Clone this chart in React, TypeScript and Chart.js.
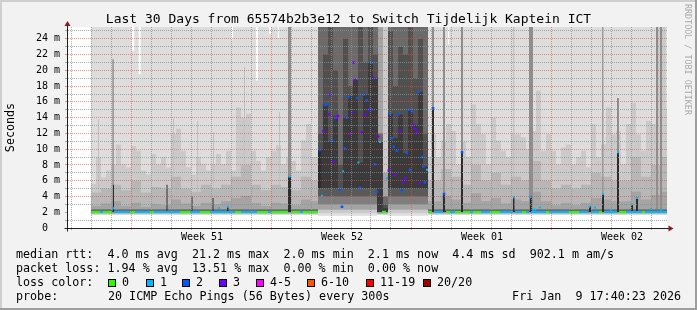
import { useEffect, useRef } from 'react';
import { Chart, registerables } from 'chart.js';

Chart.register(...registerables);

// ---------------- data (x in days since window start, y in ms) ----------------
const dayGridLines = [0.2, 1.2, 2.2, 3.2, 4.2, 5.2, 6.2, 7.2, 8.2, 9.2, 10.2, 11.2, 12.2, 13.2, 14.2, 15.2, 16.2, 17.2, 18.2, 19.2, 20.2, 21.2, 22.2, 23.2, 24.2, 25.2, 26.2, 27.2, 28.2, 29.2];
const weekStartIdx = [3, 10, 17, 24];
const weekLabelDays = [6.75, 13.75, 20.75, 27.75];
const weekLabels = ['Week 51', 'Week 52', 'Week 01', 'Week 02'];
const yTickValues = [0, 1, 2, 3, 4, 5, 6, 7, 8, 9, 10, 11, 12, 13, 14, 15, 16, 17, 18, 19, 20, 21, 22, 23, 24, 25];

// outermost smoke (min..max ping) top, breakpoints [day, ms]
const maxPing = [[1.2, 26], [3.235, 22.5], [3.365, 26], [3.585, 19.5], [3.685, 26], [8.2, 23.9], [8.3, 26], [9.45, 18.7], [9.55, 26], [10.1, 24.6], [10.2, 26], [10.55, 24.1], [10.6, 26], [19.05, 23.3], [19.1, 26], [30, 26]];

// second smoke band top, 0.25-day columns from day 1.2
const smoke2Top = [
  5.6, 9.0, 6.4, 7.3, 8.0, 10.6, 8.1, 7.7, 10.4, 9.8,
  7.3, 6.8, 9.4, 8.1, 9.0, 7.7, 11.9, 12.6, 9.8, 7.7,
  6.8, 9.0, 8.1, 7.3, 8.1, 9.4, 8.1, 9.8, 7.3, 15.3,
  14.0, 14.5, 9.8, 8.5, 7.3, 9.0, 9.8, 10.5, 8.1, 9.0,
  8.5, 7.3, 11.1, 13.2, 9.0, 9.0, 26, 26, 26, 26,
  26, 26, 26, 26, 26, 26, 26, 26, 26, 26,
  26, 26, 26, 26, 26, 26, 26, 9.0, 11.9, 9.0,
  11.1, 13.2, 12.3, 8.1, 11.0, 9.0, 15.7, 13.2, 11.9, 8.1,
  14.0, 11.1, 9.8, 9.0, 11.9, 11.9, 11.5, 10.0, 12.3, 17.4,
  9.8, 11.9, 9.8, 8.1, 10.2, 10.6, 8.1, 9.0, 9.8, 7.7,
  13.2, 9.0, 10.6, 15.3, 11.9, 12.3, 8.1, 13.2, 15.9, 11.9,
  9.8, 13.6, 13.2, 26, 26, 15
];

// third and fourth smoke band tops, 0.5-day columns from day 1.2
const smoke3Top = [
  4.5, 5.0, 5.5, 4.8, 6.0, 4.5, 5.2, 5.0, 6.5, 5.0,
  4.6, 5.5, 5.0, 5.5, 6.5, 8.0, 5.5, 4.8, 5.5, 5.2,
  4.8, 6.5, 6.0, 0, 0, 0, 0, 0, 0, 0,
  0, 0, 0, 6.0, 6.0, 7.5, 6.5, 5.5, 8.0, 6.0,
  7.0, 5.5, 6.5, 6.0, 8.5, 6.0, 5.0, 5.5, 5.0, 5.5,
  7.0, 6.5, 6.0, 6.0, 9.0, 6.5, 8.0, 9.0
];
const smoke4Top = [
  2.8, 3.1, 3.4, 2.8, 3.2, 2.7, 3.0, 2.9, 3.6, 3.1,
  2.8, 3.2, 3.0, 3.4, 3.8, 4.1, 3.2, 2.8, 3.2, 3.1,
  2.9, 3.6, 3.4, 0, 0, 0, 0, 0, 0, 0,
  0, 0, 0, 3.4, 3.4, 4.1, 3.6, 3.2, 4.4, 3.4,
  3.8, 3.1, 3.6, 3.4, 4.6, 3.4, 2.9, 3.2, 2.9, 3.2,
  3.8, 3.6, 3.4, 3.4, 4.6, 3.6, 4.2, 4.6
];
// inner bands around the median in quiet periods
const smoke6Top = [[1.2, 2.4], [30, 2.4]];
const smoke8Top = [[1.2, 2.22], [30, 2.22]];
const smoke10Top = [[1.2, 2.1], [30, 2.1]];

// week 52 disturbance, 0.25-day columns from day 12.55
const w52Light = [26, 26, 26, 26, 26, 26, 26, 26, 26, 26, 26, 26, 26, 7, 26, 26, 26, 26, 26, 26, 26, 26];
const w52Mid = [26, 26, 26, 26, 26, 26, 26, 26, 26, 26, 26, 26, 12, 4, 26, 26, 26, 26, 26, 26, 26, 26];
const w52Dark = [12, 22, 26, 20, 8, 24, 18, 14, 26, 21, 26, 22, 10, 3, 25, 18, 23, 22, 26, 19, 24, 12];
const w52Core = [10, 15.7, 11, 14.2, 4.9, 14, 16.7, 18.8, 8.3, 16.9, 21, 19, 10.9, 2.5, 14.5, 11.4, 14.4, 9.5, 15, 13.1, 17.3, 7.8];

// narrow bursts [startDay, endDay, ms]
const burstLight = [[1.55, 1.6, 13.8], [5.3, 5.35, 13.9], [6.5, 6.55, 13.6], [7.3, 7.35, 12.1], [8.85, 8.9, 20.4], [10.6, 10.65, 14.7], [22.3, 22.375, 26]];
const burstGray = [[2.26, 2.34, 21.4], [11.05, 11.2, 26], [18.25, 18.35, 26], [18.8, 18.9, 26], [19.7, 19.8, 26], [23.1, 23.3, 26], [26.76, 26.82, 26], [27.5, 27.6, 16.5], [29.45, 29.55, 26], [29.65, 29.75, 26]];
const burstDark = [[2.3, 2.35, 5.5], [4.975, 5.025, 5.5], [6.225, 6.275, 4.0], [7.275, 7.325, 3.8], [8.0, 8.075, 2.8], [11.05, 11.2, 6.5], [12.55, 12.7, 10], [18.25, 18.35, 15.2], [18.8, 18.9, 4.3], [19.7, 19.8, 9.6], [22.3, 22.375, 3.9], [23.15, 23.25, 4.0], [26.1, 26.2, 2.8], [26.75, 26.85, 4.3], [27.5, 27.6, 9.6], [28.2, 28.3, 3.0], [28.45, 28.55, 3.8]];

// lower edges of the smoke bands (breakpoints shared)
const lowDays = [1.2, 12.55, 15.5, 16.05, 18.05, 30];
const lowCore = [2.0, 5.0, 2.0, 5.0, 2.0, 2.0];
const lowDark = [2.0, 4.0, 2.0, 4.0, 2.0, 2.0];
const lowMid = [2.0, 3.0, 2.0, 3.0, 2.0, 2.0];
const lowLight = [1.85, 2.3, 1.85, 2.3, 1.85, 1.85];
const lowOuter = [1.75, 1.9, 1.75, 1.9, 1.75, 1.75];
const minPing = [1.65, 1.55, 1.65, 1.55, 1.65, 1.65];

// median rtt runs per loss colour [startDay, endDay, ms]
const medianLoss0 = [[1.2, 1.65, 2.03], [1.8, 2.25, 2.03], [3.15, 3.4, 2.03], [4.15, 4.35, 2.03], [5.65, 6.15, 2.03], [6.65, 7.15, 2.03], [8.4, 8.7, 2.03], [9.5, 10.05, 2.03], [10.2, 11.05, 2.03], [11.2, 11.65, 2.03], [11.8, 12.55, 2.03], [15.75, 15.95, 2.05], [18.05, 18.25, 2.03], [18.95, 19.15, 2.03], [19.4, 19.7, 2.03], [19.8, 20.15, 2.03], [20.3, 20.7, 2.03], [21.15, 21.65, 2.03], [22.75, 22.95, 2.03], [23.95, 24.1, 2.03], [25.1, 25.6, 2.03], [26.6, 26.75, 2.03], [27.6, 27.95, 2.03], [28.75, 28.9, 2.03]];
const medianLoss1 = [[1.65, 1.8, 2.03], [2.25, 2.35, 2.5], [2.35, 3.15, 2.03], [3.4, 4.15, 2.03], [4.35, 5.65, 2.03], [6.15, 6.65, 2.03], [7.15, 8.4, 2.03], [7.55, 7.65, 2.5], [8.0, 8.1, 2.7], [8.7, 9.5, 2.03], [10.05, 10.2, 2.03], [11.075, 11.175, 6.5], [11.65, 11.8, 2.03], [12.7, 12.8, 4.1], [13.77, 13.85, 7.2], [14.52, 14.62, 8.3], [15.6, 15.7, 10.9], [15.95, 16.05, 6.3], [17.95, 18.05, 7.4], [18.35, 18.8, 2.03], [19.15, 19.4, 2.03], [20.15, 20.3, 2.03], [20.7, 21.15, 2.03], [21.65, 22.3, 2.03], [22.3, 22.4, 3.9], [22.4, 22.75, 2.03], [22.95, 23.1, 2.03], [23.1, 23.2, 3.9], [23.2, 23.95, 2.03], [23.25, 23.45, 2.3], [23.6, 23.7, 2.6], [24.1, 25.1, 2.03], [25.6, 26.075, 2.03], [26.075, 26.175, 2.7], [26.2, 26.6, 2.03], [26.35, 26.45, 2.6], [26.75, 26.85, 4.3], [26.85, 27.5, 2.03], [27.15, 27.25, 2.3], [27.5, 27.6, 9.6], [27.95, 28.75, 2.03], [28.2, 28.3, 3.0], [28.45, 28.55, 3.8], [28.9, 30, 2.03], [29.15, 29.25, 2.4], [29.65, 29.75, 2.3]];
const medianLoss2 = [[12.6, 12.7, 9.9], [12.87, 12.97, 15.6], [12.95, 13.05, 15.7], [13.2, 13.3, 11.1], [13.35, 13.45, 14.0], [13.6, 13.7, 4.9], [13.7, 13.8, 2.7], [13.85, 13.95, 10.1], [13.93, 14.03, 14.0], [14.02, 14.12, 16.6], [14.46, 14.56, 16.5], [14.6, 14.7, 5.1], [14.78, 14.88, 16.9], [14.94, 15.04, 16.2], [15.12, 15.22, 15.1], [15.19, 15.29, 21.0], [15.35, 15.45, 8.1], [15.45, 15.55, 4.6], [16.1, 16.2, 14.5], [16.2, 16.3, 11.4], [16.29, 16.39, 10.3], [16.45, 16.55, 9.8], [16.52, 16.62, 14.4], [16.7, 16.8, 4.8], [16.94, 17.04, 9.5], [17.02, 17.12, 15.0], [17.1, 17.2, 7.4], [17.2, 17.3, 14.8], [17.52, 17.62, 17.3], [17.7, 17.8, 9.0], [17.77, 17.87, 7.8], [17.85, 17.95, 5.8], [18.25, 18.35, 15.2], [18.8, 18.9, 4.3], [19.7, 19.8, 9.6]];
const medianLoss3 = [[12.77, 12.87, 12.3], [13.05, 13.15, 14.4], [13.12, 13.22, 16.9], [13.27, 13.37, 8.4], [13.44, 13.54, 14.0], [13.5, 13.6, 14.2], [14.1, 14.2, 12.0], [14.19, 14.29, 14.7], [14.28, 14.38, 21.0], [14.35, 14.45, 18.8], [14.69, 14.79, 12.1], [14.85, 14.95, 14.4], [15.04, 15.14, 15.0], [15.27, 15.37, 19.0], [15.52, 15.62, 11.6], [16.04, 16.14, 7.3], [16.35, 16.45, 6.8], [16.6, 16.7, 12.3], [16.77, 16.87, 5.8], [16.85, 16.95, 6.3], [17.29, 17.39, 13.1], [17.35, 17.45, 12.6], [17.44, 17.54, 12.2], [17.6, 17.7, 5.7]];

const lossLabels = ['0', '1', '2', '3', '4-5', '6-10', '11-19', '20/20'];
const lossColors = ['#26ff00', '#00b8ff', '#0059ff', '#7000ff', '#ff00ff', '#ff5500', '#ff0000', '#a00000'];

const titleText = 'Last 30 Days from 65574b2b3e12 to Switch Tijdelijk Kaptein ICT';
const legendRtt = 'median rtt:  4.0 ms avg  21.2 ms max  2.0 ms min  2.1 ms now  4.4 ms sd  902.1 m am/s';
const legendLoss = 'packet loss: 1.94 % avg  13.51 % max  0.00 % min  0.00 % now';
const legendProbe = '20 ICMP Echo Pings (56 Bytes) every 300s';
const legendDate = 'Fri Jan  9 17:40:23 2026';

// ---------------- helpers ----------------
type P = { x: number; y: number | null };
const W = 697;
const H = 310;
const FONT = "'DejaVu Sans Mono', monospace";
const GRID = 'rgba(143,143,143,0.75)';
const MGRID = 'rgba(222,79,79,0.6)';
const AXIS = '#1f1f1f';
const ARROW = '#801f1f';

function columns(start: number, step: number, vals: number[]): P[] {
  const pts: P[] = vals.map((v, i) => ({ x: start + i * step, y: v }));
  pts.push({ x: Math.min(start + vals.length * step, 30), y: vals[vals.length - 1] });
  return pts;
}
function breaks(bp: number[][]): P[] {
  return bp.map(([x, y]) => ({ x, y }));
}
function paired(xs: number[], ys: number[]): P[] {
  return xs.map((x, i) => ({ x, y: ys[i] }));
}
function bursts(list: number[][]): P[] {
  const out: P[] = [];
  for (const [s, e, h] of list) out.push({ x: s, y: h }, { x: e, y: 0 });
  return out;
}
function runs(list: number[][], pad = 0): P[] {
  const out: P[] = [];
  for (const [s, e, v] of list) out.push({ x: s - pad, y: v }, { x: e + pad, y: v }, { x: e + pad, y: null });
  return out;
}

export default function App() {
  const ref = useRef<HTMLCanvasElement>(null);

  useEffect(() => {
    const canvas = ref.current;
    if (!canvas) return;

    const areas: [P[], string][] = [
      [breaks(maxPing), '#dddddd'],
      [columns(1.2, 0.25, smoke2Top), '#cacaca'],
      [bursts(burstLight), '#c0c0c0'],
      [columns(1.2, 0.5, smoke3Top), '#b7b7b7'],
      [columns(1.2, 0.5, smoke4Top), '#a4a4a4'],
      [columns(12.55, 0.25, w52Light), '#a4a4a4'],
      [bursts(burstGray), '#8e8e8e'],
      [breaks(smoke6Top), '#7e7e7e'],
      [columns(12.55, 0.25, w52Mid), '#6b6b6b'],
      [breaks(smoke8Top), '#585858'],
      [columns(12.55, 0.25, w52Dark), '#505050'],
      [breaks(smoke10Top), '#323232'],
      [columns(12.55, 0.25, w52Core), '#3a3a3a'],
      [bursts(burstDark), '#2c2c2c'],
      [paired(lowDays, lowCore), '#5a5a5a'],
      [paired(lowDays, lowDark), '#7e7e7e'],
      [paired(lowDays, lowMid), '#a4a4a4'],
      [paired(lowDays, lowLight), '#cacaca'],
      [paired(lowDays, lowOuter), '#dddddd'],
      [paired(lowDays, minPing), '#ffffff'],
    ];
    const medians: [P[], string, number][] = [
      [runs(medianLoss0), lossColors[0], 2],
      [runs(medianLoss1), lossColors[1], 2],
      [runs(medianLoss2, 0.015), lossColors[2], 2.5],
      [runs(medianLoss3, 0.015), lossColors[3], 2.5],
    ];
    const total = areas.length + medians.length;
    const datasets: any[] = [];
    areas.forEach(([data, color], i) => {
      datasets.push({
        type: 'line', data, stepped: 'before', fill: 'origin',
        backgroundColor: color, borderColor: 'rgba(0,0,0,0)', borderWidth: 0,
        pointRadius: 0, pointHoverRadius: 0, order: total - i,
      });
    });
    medians.forEach(([data, color, bw], j) => {
      datasets.push({
        type: 'line', data, fill: false, borderColor: color, borderWidth: bw,
        pointRadius: 0, pointHoverRadius: 0, spanGaps: false, order: medians.length - j,
      });
    });

    const decor = {
      id: 'rrdDecor',
      beforeDraw(chart: any) {
        const { ctx, chartArea: a } = chart;
        ctx.save();
        ctx.fillStyle = '#f2f2f2';
        ctx.fillRect(0, 0, W, H);
        ctx.fillStyle = '#cfcfcf';
        ctx.fillRect(0, 0, W, 2);
        ctx.fillRect(0, 0, 2, H);
        ctx.fillStyle = '#9e9e9e';
        ctx.fillRect(0, H - 2, W, 2);
        ctx.fillRect(W - 2, 0, 2, H);
        ctx.fillStyle = '#ffffff';
        ctx.fillRect(a.left, a.top, a.right - a.left, a.bottom - a.top);
        ctx.restore();
      },
      afterDraw(chart: any) {
        const { ctx, chartArea: a } = chart;
        ctx.save();
        const ax = Math.round(a.left) + 0.5;
        const ay = Math.round(a.bottom) + 0.5;
        ctx.strokeStyle = AXIS;
        ctx.lineWidth = 1;
        ctx.beginPath();
        ctx.moveTo(ax, a.top - 1.5);
        ctx.lineTo(ax, ay + 3);
        ctx.moveTo(ax - 3, ay);
        ctx.lineTo(a.right + 2, ay);
        ctx.stroke();
        ctx.fillStyle = ARROW;
        ctx.beginPath();
        ctx.moveTo(ax, a.top - 6);
        ctx.lineTo(ax - 3, a.top - 1);
        ctx.lineTo(ax + 3, a.top - 1);
        ctx.closePath();
        ctx.fill();
        ctx.beginPath();
        ctx.moveTo(a.right + 6.5, ay);
        ctx.lineTo(a.right + 1.5, ay - 3);
        ctx.lineTo(a.right + 1.5, ay + 3);
        ctx.closePath();
        ctx.fill();

        ctx.fillStyle = '#000';
        ctx.textBaseline = 'middle';
        ctx.textAlign = 'center';
        ctx.font = `13px ${FONT}`;
        ctx.fillText(titleText, 348.5, 19.5);

        ctx.textAlign = 'left';
        ctx.font = `11.7px ${FONT}`;
        ctx.fillText(legendRtt, 16, 254.5);
        ctx.fillText(legendLoss, 16, 268.5);
        ctx.fillText('loss color:', 16, 282.5);
        ctx.fillText('probe:', 16, 296.5);
        ctx.fillText(legendProbe, 108, 296.5);
        ctx.textAlign = 'right';
        ctx.fillText(legendDate, 681, 296.5);
        ctx.textAlign = 'left';
        const boxX = [108, 146, 182, 219, 256, 307, 366, 423];
        lossLabels.forEach((lab, i) => {
          ctx.fillStyle = lossColors[i];
          ctx.fillRect(boxX[i], 279, 8, 8);
          ctx.strokeStyle = '#000';
          ctx.strokeRect(boxX[i] + 0.5, 279.5, 7, 7);
          ctx.fillStyle = '#000';
          ctx.fillText(lab, boxX[i] + 14, 282.5);
        });

        ctx.translate(687, 4);
        ctx.rotate(Math.PI / 2);
        ctx.font = `8.4px ${FONT}`;
        ctx.fillStyle = '#aaaaaa';
        ctx.textAlign = 'left';
        ctx.textBaseline = 'middle';
        ctx.fillText('RRDTOOL / TOBI OETIKER', 0, 0);
        ctx.restore();
      },
    };

    const chart = new Chart(canvas, {
      type: 'line',
      data: { datasets },
      options: {
        responsive: false,
        maintainAspectRatio: false,
        devicePixelRatio: 1,
        animation: false,
        events: [],
        layout: { padding: { left: 0, right: 30, top: 27, bottom: 0 } },
        plugins: { legend: { display: false }, tooltip: { enabled: false }, title: { display: false } },
        scales: {
          x: {
            type: 'linear', min: 0, max: 30, position: 'bottom', weight: 0,
            afterBuildTicks: (s: any) => { s.ticks = dayGridLines.map((v) => ({ value: v })); },
            afterFit: (s: any) => { s.height = 0; },
            grid: {
              color: (c: any) => (weekStartIdx.includes(c.index) ? MGRID : GRID),
              drawTicks: true, tickLength: 2, z: 1,
            },
            border: { display: true, color: AXIS, width: 1, dash: [1, 1], z: 1 },
            ticks: { display: false },
          },
          x2: {
            type: 'linear', min: 0, max: 30, position: 'bottom', weight: 1,
            afterBuildTicks: (s: any) => { s.ticks = weekLabelDays.map((v) => ({ value: v })); },
            afterFit: (s: any) => { s.height = 82; },
            grid: { display: false, drawTicks: false },
            border: { display: false },
            ticks: {
              callback: (_v: any, i: number) => weekLabels[i],
              font: { family: FONT, size: 10 }, color: '#000', padding: 3,
              maxRotation: 0, autoSkip: false,
            },
          },
          y: {
            type: 'linear', min: 0, max: 25.5, position: 'left',
            afterBuildTicks: (s: any) => { s.ticks = yTickValues.map((v) => ({ value: v })); },
            afterFit: (s: any) => { s.width = 67; },
            grid: {
              color: (c: any) => {
                const v = c.tick ? c.tick.value : 0;
                if (v === 0 || v === 2) return 'rgba(0,0,0,0)';
                return v % 2 === 0 ? MGRID : GRID;
              },
              tickColor: (c: any) => {
                const v = c.tick ? c.tick.value : 0;
                return v % 2 === 0 ? MGRID : GRID;
              },
              drawTicks: true, tickLength: 2, z: 1,
            },
            border: { display: true, color: AXIS, width: 1, dash: [1, 1], z: 1 },
            ticks: {
              callback: (v: any) => (v === 0 ? '0  ' : v % 2 === 0 ? `${v} m` : ''),
              font: { family: FONT, size: 10 }, color: '#000', padding: 5, autoSkip: false,
            },
            title: {
              display: true, text: 'Seconds', color: '#000',
              font: { family: FONT, size: 11.7 }, padding: { top: 4, bottom: 0 },
            },
          },
        },
      } as any,
      plugins: [decor],
    });
    return () => chart.destroy();
  }, []);

  return (
    <div style={{ position: 'absolute', left: 0, top: 0, width: W, height: H }}>
      <canvas ref={ref} width={W} height={H} style={{ width: W, height: H, display: 'block' }} />
    </div>
  );
}
